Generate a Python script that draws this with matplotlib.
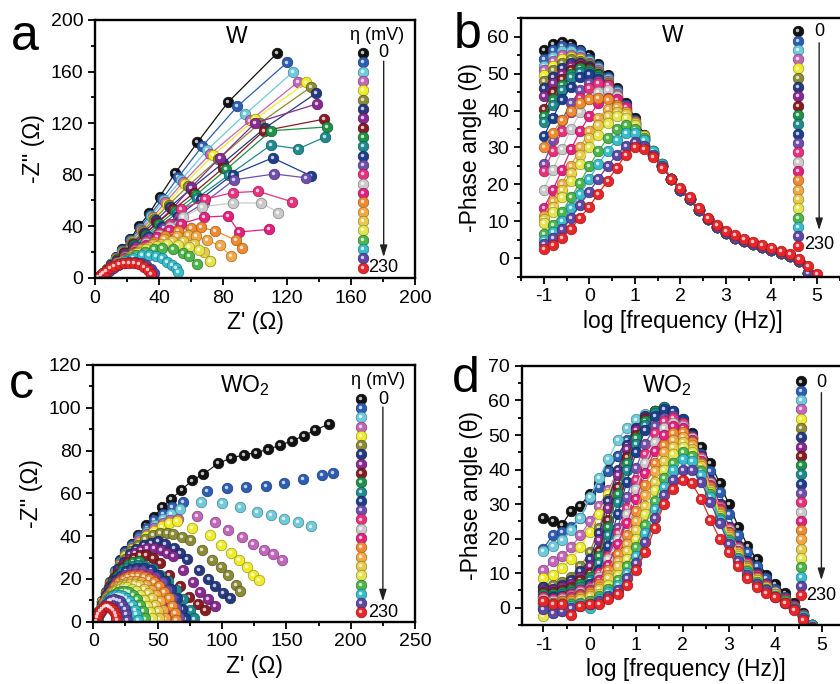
import numpy as np
import matplotlib
matplotlib.use('Agg')
import matplotlib.pyplot as plt
import matplotlib.colors as mcolors
from matplotlib.transforms import offset_copy
from matplotlib.ticker import MultipleLocator

plt.rcParams['font.family'] = ['Liberation Sans', 'DejaVu Sans']
plt.rcParams['mathtext.fontset'] = 'custom'
plt.rcParams['mathtext.rm'] = 'Liberation Sans'
plt.rcParams['mathtext.it'] = 'Liberation Sans:italic'
plt.rcParams['axes.unicode_minus'] = False

# overpotential 0 -> 230 mV
colors = ['#111111', '#2c5db3', '#6fcadb', '#c266bb', '#f0ec2a', '#8b8a35', '#26397f', '#862a90',
          '#851c22', '#1e9147', '#1e8a8d', '#1d3e8c', '#6d4fae', '#e8307d', '#cacaca', '#e4207f',
          '#f08a30', '#f3a843', '#e8c94a', '#e5e44c', '#4bb548', '#36bccb', '#5a47a6', '#e8262a']

# ---- panel a : W Nyquist ----
a_x = [
    [3, 5, 7.5, 10, 13, 17, 22, 27.5, 34, 40.5, 50, 64, 83, 114],
    [3, 5, 7.5, 10, 13, 17, 22, 28, 34.5, 42, 52, 67, 89, 120],
    [3, 5, 7.5, 10, 13, 17, 22.5, 28.5, 35, 43, 54, 70, 94, 124],
    [3, 5, 7.5, 10, 13, 17.5, 22.5, 29, 36, 44, 55, 72, 97, 127],
    [3, 5, 7.5, 10, 13, 17.5, 23, 29.5, 36.5, 45, 56, 74, 100, 132],
    [3, 5, 7.5, 10, 13.5, 18, 23, 30, 37, 46, 58, 77, 103, 135],
    [3, 5, 7.5, 10, 13.5, 18, 23.5, 30.5, 38, 47, 60, 80, 106, 138],
    [3, 5, 7.5, 10, 13.5, 18, 24, 31, 39, 48, 60, 78, 100, 139],
    [3, 5, 7.5, 10, 13.5, 18, 24, 31, 39, 49, 62, 80, 105.5, 143],
    [3, 5, 7.5, 10, 13.5, 18.5, 24.5, 32, 40, 50, 63, 82, 110, 145],
    [3, 5, 7.5, 10, 13.5, 18.5, 25, 32.5, 41, 51, 64, 84, 110, 127, 143.5],
    [3, 5, 7.5, 10, 14, 19, 25, 33, 42, 52, 66, 86, 111, 135],
    [3, 5, 7.5, 10, 14, 19, 25.5, 33.5, 43, 54, 68, 87, 112, 132],
    [3, 5, 7.5, 10, 14, 19, 25, 32, 40, 47, 54, 69, 86, 102, 123],
    [3, 5, 7.5, 10, 14, 19, 25, 32, 40, 47, 55, 67, 86, 104, 114.5],
    [3, 5, 7.5, 10, 14, 19, 25, 32, 39, 46, 54, 68, 83, 90, 109],
    [3, 5, 7.5, 10, 13.5, 18, 23.5, 30, 37, 44, 52, 60, 66, 75, 88, 92],
    [3, 5, 7.5, 10, 13.5, 18, 23, 29, 36, 43, 51, 58, 63, 70, 78, 85],
    [3, 5, 7.5, 10, 13, 17, 22, 28, 34, 41, 48, 55, 62, 68, 72],
    [3, 5, 7, 9.5, 12.5, 16.5, 21, 26.5, 32, 38.5, 45, 52, 58.5, 65, 72],
    [3, 5, 7, 9.5, 12.5, 16, 20.5, 25.5, 31, 37, 42, 49, 55, 58.5, 64],
    [3, 5, 7, 9, 12, 15, 19, 23.5, 29.5, 34, 38, 42, 45, 48, 50.5, 52],
    [3, 5, 7, 9, 11.5, 14.5, 18, 21.5, 25, 29, 32, 35, 37],
    [2, 3.5, 5, 7, 9.5, 12, 15, 18, 21, 24.5, 27.5, 30.5, 33, 35],
]
a_y = [
    [1, 3.5, 7, 11, 16, 22, 30, 40, 50, 63, 81, 105, 136, 174.5],
    [1, 3.5, 7, 10.5, 15.5, 21.5, 29, 38.5, 49, 61, 78, 102, 133, 167],
    [1, 3.5, 6.5, 10.5, 15, 21, 28.5, 37.5, 48, 60, 76, 99, 127, 160],
    [1, 3, 6.5, 10, 15, 20.5, 28, 37, 47, 58.5, 74, 96, 122, 152],
    [1, 3, 6.5, 10, 14.5, 20, 27.5, 36.5, 46, 57.5, 73, 95, 123, 151.5],
    [1, 3, 6, 9.5, 14.5, 20, 27, 36, 45.5, 56.5, 71, 92, 120, 148],
    [1, 3, 6, 9.5, 14, 19.5, 26.5, 35, 44.5, 55, 69, 89, 116, 143],
    [1, 3, 6, 9.5, 14, 19, 26, 34, 43, 53, 70, 93, 120, 135],
    [1, 3, 6, 9, 13.5, 19, 25.5, 33.5, 42.5, 53, 66, 85, 114, 123],
    [1, 3, 5.5, 9, 13.5, 18.5, 25, 33, 41.5, 51.5, 64, 84, 114, 117],
    [1, 3, 5.5, 9, 13, 18, 24.5, 32, 40.5, 50, 62, 80, 103, 100, 109],
    [1, 3, 5.5, 8.5, 13, 18, 24, 31.5, 39.5, 48, 61, 80, 93, 79],
    [1, 3, 5.5, 8.5, 12.5, 17.5, 23.5, 30.5, 38.5, 47, 58, 76, 80.5, 77.5],
    [1, 3, 5.5, 8.5, 12, 16.5, 22, 28.5, 35, 42, 53, 61, 66, 67, 59],
    [1, 3, 5.5, 8, 11.5, 16, 21, 27, 33, 39.5, 47, 55, 58, 58, 50.5],
    [1, 3, 5, 8, 11, 15, 20, 25.5, 31.5, 37, 42, 47, 48, 35.5, 37.5],
    [1, 3, 5, 7.5, 10.5, 14, 18.5, 23, 28, 32.5, 36, 38.5, 39, 36.5, 29, 23],
    [1, 2.8, 5, 7.5, 10, 13.5, 17.5, 22, 26.5, 30, 32.5, 33, 32, 29, 25, 17],
    [1, 2.8, 5, 7, 9.5, 12.5, 16, 20, 23.5, 26.5, 28.5, 28.5, 26, 20, 13],
    [1, 2.5, 4.5, 6.5, 9, 12, 15.5, 19, 22, 24.5, 26, 25.5, 24, 21.5, 13],
    [1, 2.5, 4.5, 6.5, 9, 11.5, 14.5, 17.5, 20, 22, 23, 22, 19, 16.5, 11],
    [1, 2.3, 4, 6, 8, 10.5, 13, 15.5, 17.5, 17.5, 16.5, 15, 12.5, 10, 7.5, 4.5],
    [1, 2.3, 4, 5.5, 7.5, 9.5, 11.5, 12.5, 12.5, 11.5, 9.5, 7, 4],
    [0.3, 2, 3.5, 5.5, 7.5, 9, 10.5, 11.2, 11.5, 11.2, 10.3, 8.5, 6, 3],
]

# ---- panel b : W Bode ----
b_logf = [-1.0, -0.8, -0.6, -0.4, -0.2, 0.0, 0.2, 0.4, 0.6, 0.8, 1.0, 1.2, 1.4, 1.6, 1.8,
          2.0, 2.2, 2.4, 2.6, 2.8, 3.0, 3.2, 3.4, 3.6, 3.8, 4.0, 4.2, 4.4, 4.6, 4.8, 5.0]
b_head = [
    [56.5, 58, 58.5, 58, 56.5, 55, 52.5, 49.5, 46, 42, 38, 33.5, 29, 25],
    [54, 56.5, 57.5, 57, 56, 54, 52, 49, 45.5, 41.5, 37.5, 33, 28.5, 25],
    [52, 54.5, 56, 56, 55, 53.5, 51.5, 48.5, 45, 41, 37, 33, 28.5, 25],
    [51, 53.5, 55, 55, 54.5, 53, 51, 48, 44.5, 40.5, 36.5, 32.5, 28.5, 25],
    [49.5, 52, 54, 54.5, 54, 52.5, 50.5, 47.5, 44, 40.5, 36.5, 32.5, 28.5, 25],
    [48, 51, 53, 54, 53.5, 52.5, 50.5, 47.5, 44, 40, 36.5, 32.5, 28.5, 25],
    [46, 49, 51.5, 53, 53, 52, 50, 47, 43.5, 40, 36, 32.5, 28.5, 25],
    [44, 47.5, 50, 52, 52.5, 51.5, 49.5, 46.5, 43, 39.5, 36, 32, 28.5, 25],
    [40.5, 45, 48.5, 51, 52, 51.5, 49.5, 46.5, 43, 39.5, 36, 32, 28.5, 25],
    [38.5, 43, 47, 50, 51.5, 51, 49.5, 46.5, 43, 39.5, 35.5, 32, 28, 25],
    [37, 41.5, 45.5, 49, 50.5, 50.5, 49, 46.5, 43, 39.5, 35.5, 32, 28, 25],
    [33, 38, 43, 46.5, 49, 50, 48.5, 46, 42.5, 39, 35.5, 32, 28, 25],
    [25.5, 32, 37.5, 42, 45.5, 47.5, 48, 46, 42.5, 39, 35.5, 31.5, 28, 25],
    [23.5, 29, 34.5, 39.5, 43.5, 46, 47.5, 47, 44, 40.5, 36.5, 32, 28, 25],
    [18.5, 24, 29.5, 35, 39.5, 43, 45, 45.5, 44, 40.5, 36.5, 32.5, 28.5, 25],
    [13.5, 18.5, 24, 29.5, 34.5, 38.5, 42, 43.5, 43, 41, 37, 32.5, 28.5, 25],
    [30, 34, 37.5, 40, 42, 43, 43.5, 43, 41.5, 39.5, 36.5, 33, 29, 25.5],
    [11.5, 15.5, 20, 25, 30, 34.5, 38, 40.5, 41, 39.5, 37, 33, 29, 25.5],
    [10.5, 14, 18.5, 23, 28, 32.5, 36, 38.5, 39.5, 39, 36.5, 33, 29, 25.5],
    [9.5, 12.5, 16.5, 21, 25.5, 30, 33.5, 36.5, 38.5, 38, 36, 33, 29, 25.5],
    [6.5, 9, 12.5, 16.5, 20.5, 25, 29, 32.5, 35, 36, 35, 32.5, 29, 25.5],
    [5, 7, 10, 13.5, 17.5, 21.5, 25.5, 29, 32, 34, 34, 32, 29, 25.5],
    [3.8, 5.5, 8, 11, 14.5, 18, 21.5, 25, 28, 30.5, 31.5, 30.5, 28, 25],
    [2.4, 3.5, 5.5, 8, 11, 14, 17.5, 21, 24.5, 28, 30, 29.5, 27.5, 24.5],
]
# high-frequency part (log f = 1.8 ... 5.0), where all curves overlap
b_tail = [21.5, 18.5, 16, 13, 10.5, 8.5, 6.8, 5.6, 4.6, 3.8, 3.0, 2.2, 1.5, 0.7, -0.8, -4, -7]
b_tail_red = [21.5, 19, 16.5, 13.5, 11, 9, 7.5, 6.3, 5.3, 4.5, 3.6, 2.7, 2.0, 1.2, -0.3, -2.2, -4.2]
b_y = [h + (b_tail_red if i == 23 else b_tail) for i, h in enumerate(b_head)]

# ---- panel c : WO2 Nyquist ----
c_x = [
    [2.5, 4.5, 7, 10, 13, 16.5, 20.5, 25, 30, 35, 41, 47, 53.5, 60.5, 68.5, 76.5, 85.5, 97, 107, 117, 126.5, 135.5, 145, 154.5, 163.5, 172.5, 183],
    [2.5, 4.5, 7, 10, 13, 16.5, 20.5, 25, 30, 35.5, 41.5, 47.5, 54, 61, 69.5, 88, 104, 119, 134, 148, 163, 178, 186],
    [2.5, 4.5, 7, 10, 13, 16.5, 20.5, 25, 30, 35.5, 41.5, 48, 54.5, 60, 67.5, 84, 100, 114, 127, 138, 148.5, 159, 169],
    [2.5, 4.5, 7, 10, 13, 16.5, 20.5, 25, 30, 35.5, 41.5, 47.5, 54, 59.5, 66, 80.5, 94.5, 105, 115.5, 124, 132.5, 139.5, 146.5],
    [2.5, 4.5, 7, 10, 13, 16.5, 20.5, 25, 30, 35.5, 41, 47, 53, 59, 65, 76.5, 90.5, 99, 107, 113.5, 119.5, 124, 128.5],
    [2.5, 4.5, 7, 10, 13, 16.5, 20, 24.5, 29.5, 35, 40.5, 46, 51.5, 57, 62, 69, 75.5, 84.5, 92, 99, 105, 110.5, 114],
    [2.5, 4.5, 7, 10, 13, 16, 19.5, 24, 28.5, 33.5, 39, 44.5, 50, 56, 62.5, 67.5, 72.5, 82, 89.5, 94.5, 100.5, 106],
    [2.5, 4.5, 7, 9.5, 12.5, 15.5, 19, 23, 27.5, 32, 37, 42, 47, 52.5, 57.5, 62, 70, 77.5, 83, 89, 94.5],
    [2.5, 4.5, 7, 9.5, 12.5, 15.5, 19, 23, 27, 31.5, 36, 41, 46, 51.5, 59, 67.5, 74.5, 81, 87],
    [2.5, 4.5, 7, 9.5, 12.5, 15.5, 19, 23, 27, 31, 35.5, 41.5, 49, 56, 63, 69.5, 76],
    [2.5, 4.5, 7, 9.5, 12.5, 15.5, 19, 22.5, 26.5, 30.5, 35, 40, 46, 52, 58, 64, 70, 75.5, 78.5],
    [2.5, 4.5, 6.5, 9, 12, 15, 18, 21.5, 25.5, 29.5, 34, 39, 44.5, 50, 55.5, 60.5, 65, 69, 71],
    [2.5, 4.5, 6.5, 9, 12, 15, 18, 21.5, 25, 29, 33.5, 38, 43, 48, 53, 57.5, 61.5, 64.5, 66.5],
    [2.5, 4.5, 6.5, 9, 11.5, 14.5, 17.5, 21, 24.5, 28.5, 32.5, 37, 41.5, 46, 50.5, 54.5, 58, 61, 63],
    [2.5, 4.5, 6.5, 9, 11.5, 14.5, 17.5, 21, 24.5, 28, 32, 36, 40.5, 44.5, 49, 52.5, 56, 58.5, 60],
    [2.5, 4.5, 6.5, 8.5, 11, 14, 17, 20, 23.5, 27, 31, 35, 39, 43, 47, 50.5, 53.5, 55.5, 57],
    [2.5, 4.5, 6.5, 8.5, 11, 14, 17, 20, 23.5, 27, 31, 35, 39, 43, 47, 51, 55, 58.5, 61.5, 63.5, 64.5],
    [2.5, 4.5, 6.5, 8.5, 11, 13.5, 16.5, 19.5, 22.5, 26, 29.5, 33, 37, 41, 45, 48.5, 51.5, 54, 55.5],
    [2.5, 4, 6, 8, 10.5, 13, 15.5, 18.5, 21.5, 25, 28.5, 32, 35.5, 39, 42.5, 45.5, 48, 50, 51],
    [2.5, 4, 6, 8, 10, 12.5, 15, 17.5, 20.5, 23.5, 26.5, 30, 33, 36.5, 39.5, 42, 44, 45.5],
    [2.5, 4, 5.5, 7.5, 9.5, 11.5, 14, 16.5, 19, 22, 25, 28, 31, 34, 36.5, 38.5, 40],
    [2.5, 4, 5.5, 7, 9, 11, 13, 15.5, 18, 20.5, 23, 25.5, 28, 30, 32, 33.5, 34.5],
    [2.5, 3.5, 5, 6.5, 8, 10, 12, 14, 16, 18.5, 20.5, 22.5, 24.5, 25.5, 26.5],
    [2, 3, 4, 5, 6.5, 8, 9.5, 11, 12.5, 14, 15.5, 16.5, 17.5, 18],
]
c_y = [
    [1, 5, 9.5, 14, 18.5, 23.5, 29, 33, 36.5, 40.5, 45, 49, 53.5, 57.5, 61.5, 66, 69, 74, 76.5, 78, 79, 80.5, 82.5, 84.5, 87, 89.5, 92.5],
    [1, 5, 9.5, 14, 18.5, 23.5, 28.5, 32.5, 36, 40, 44, 47.5, 50.5, 53.5, 56, 61, 62.5, 63, 63.5, 65, 66.5, 68.5, 69.5],
    [1, 5, 9, 13.5, 18, 23, 27.5, 31.5, 35, 38.5, 42, 45, 48, 50.5, 52.5, 56, 55.5, 53.5, 51.5, 50, 48, 46.5, 44.5],
    [1, 5, 9, 13.5, 18, 22.5, 27, 31, 34.5, 38, 41, 44, 46, 47.5, 48, 49.5, 46.5, 43, 39.5, 36.5, 33.5, 31.5, 29],
    [1, 5, 9, 13, 17.5, 22, 26.5, 30.5, 34, 37, 40, 42.5, 44.5, 46, 47, 44, 40.5, 36, 32, 29, 25.5, 22, 19.5],
    [1, 4.5, 8.5, 12.5, 17, 21.5, 25.5, 29.5, 33, 36, 38.5, 40.5, 41.5, 41.5, 41, 39.5, 38, 33.5, 29, 25.5, 22, 17, 14.5],
    [1, 4.5, 8.5, 12.5, 16.5, 20.5, 24.5, 28, 31.5, 34, 36, 37, 37.5, 36.5, 34.5, 32, 29.5, 24, 20, 16.5, 13.5, 11],
    [1, 4.5, 8, 12, 16, 19.5, 23, 26.5, 29.5, 32, 33.5, 34.5, 34.5, 33.5, 32, 30.5, 24, 18.5, 14, 10.5, 7.5],
    [1, 4.5, 8, 11.5, 15.5, 19, 22.5, 25.5, 28, 30, 31, 31, 30, 27.5, 22, 16.5, 11.5, 8.5, 5.5],
    [1, 4.5, 8, 11.5, 15, 18.5, 21.5, 24.5, 26.5, 28, 28.5, 24.5, 19, 14, 9.5, 5.5, 2.5],
    [1, 4.5, 7.5, 11, 14.5, 17.5, 20.5, 23, 25, 26, 26.5, 26, 24.5, 22, 19, 15, 10.5, 5.5, 1.5],
    [1, 4, 7.5, 10.5, 14, 17, 19.5, 21.5, 23.5, 24.5, 25, 25, 24, 22, 19, 15.5, 11, 6, 1.5],
    [1, 4, 7, 10, 13, 16, 18.5, 20.5, 22, 23, 23.5, 23.5, 22.5, 21, 18.5, 15, 11, 6.5, 2],
    [1, 4, 7, 9.5, 12.5, 15, 17.5, 19.5, 21, 22, 22.5, 22.5, 21.5, 20, 17.5, 14.5, 10.5, 6.5, 2],
    [1, 4, 6.5, 9, 12, 14.5, 16.5, 18.5, 20, 21, 21.5, 21.5, 20.5, 19, 16.5, 13.5, 10, 6, 2],
    [1, 4, 6.5, 9, 11.5, 14, 16, 18, 19.5, 20.5, 21, 21, 20, 18.5, 16, 13, 9.5, 5.5, 1.5],
    [1, 4, 6.5, 9, 11.5, 14, 16.5, 18.5, 20, 21, 21.5, 21.5, 21, 20, 18.5, 16.5, 14, 11, 7.5, 4, 1],
    [1, 3.5, 6, 8.5, 11, 13, 15, 16.5, 17.5, 18.5, 19, 19, 18.5, 17, 15, 12.5, 9.5, 5.5, 1.5],
    [1, 3.5, 6, 8, 10, 12, 14, 15.5, 16.5, 17, 17.5, 17.5, 17, 15.5, 13.5, 11, 8, 5, 1.5],
    [1, 3.5, 5.5, 7.5, 9.5, 11.5, 13, 14.5, 15.5, 16, 16, 15.5, 14.5, 12.5, 10, 7.5, 4.5, 1.5],
    [1, 3, 5, 7, 8.5, 10.5, 12, 13, 14, 14.5, 14.5, 14, 12.5, 10.5, 8, 5, 1.5],
    [1, 3, 4.5, 6, 8, 9.5, 11, 12, 12.5, 12.5, 12, 11, 9.5, 8, 5.5, 3.5, 1],
    [0.8, 2.5, 4, 5.5, 7, 8.5, 9.5, 10, 10.5, 10, 9.5, 8, 6, 3.5, 1],
    [0.5, 2, 3.5, 5, 6, 7, 7.5, 7.5, 7, 6.5, 5.5, 4, 2.5, 1],
]

# ---- panel d : WO2 Bode ----
d_logf = [-1.0, -0.8, -0.6, -0.4, -0.2, 0.0, 0.2, 0.4, 0.6, 0.8, 1.0, 1.2, 1.4, 1.6, 1.8,
          2.0, 2.2, 2.4, 2.6, 2.8, 3.0, 3.2, 3.4, 3.6, 3.8, 4.0, 4.2, 4.4, 4.6, 4.8]
d_y = [
    [26, 25, 24, 28, 29.5, 33, 36, 40, 44, 48, 51.5, 55, 57, 57, 55.5, 53, 50.5, 46.5, 42, 36, 30, 23.5, 18, 14, 9.5, 7, 4.3, 1.5, -1.5, -5],
    [17, 21, 22, 23.5, 26, 31.5, 35, 39.5, 44, 48.5, 52, 55, 56.5, 57, 55.5, 52.5, 49, 44.5, 39.5, 33.5, 27, 21, 16, 12, 8.5, 5.5, 3, 0.5, -2.5, -5.5],
    [16.5, 18, 19.5, 22.5, 26, 32, 37.5, 43, 48.5, 52, 54.5, 56, 56.5, 56, 54, 50.5, 45.5, 39.5, 33, 27, 21.5, 16.5, 12.5, 9, 6.5, 4.5, 2.5, 0, -2.5, -5.5],
    [11, 13.5, 15, 17.5, 21, 25, 29.5, 34, 39.5, 45, 50, 53.5, 55.5, 56, 54.5, 51.5, 46.5, 40.5, 34, 28, 22, 17, 13, 9.5, 7, 4.5, 2.5, 0.5, -2, -5],
    [8.5, 9.5, 11.5, 14, 17.5, 22, 27, 33, 39, 44.5, 49.5, 53, 55, 55.5, 54, 51, 46, 40, 33.5, 27.5, 21.5, 16.5, 12.5, 9, 6.5, 4.5, 2.5, 0, -2.5, -5],
    [6, 6.5, 7.5, 9, 12, 16, 23, 31.5, 39.5, 46, 50.5, 54, 56, 56.5, 55, 52, 47, 41, 34.5, 28, 22, 17, 13, 9.5, 7, 4.5, 2.5, 0.5, -2, -5],
    [6, 5.5, 6.5, 8, 10.5, 14, 21.5, 31, 40, 47, 52, 55.5, 57, 57, 55.5, 52.5, 47.5, 41.5, 35, 28.5, 22.5, 17.5, 13, 9.5, 7, 4.5, 2.5, 0.5, -2, -5],
    [5, 5, 6, 7, 9, 12, 19.5, 29, 38.5, 46, 51.5, 55, 57, 57.5, 56, 53, 48, 42, 35.5, 29, 22.5, 17.5, 13, 9.5, 7, 4.5, 2.5, 0.5, -2, -5],
    [4.5, 4.5, 5, 6, 8, 10, 16.5, 25.5, 35, 43.5, 50, 54.5, 57, 57.5, 56.5, 53.5, 48.5, 42.5, 36, 29.5, 23, 18, 13.5, 10, 7, 4.5, 2.5, 0.5, -2, -5],
    [4, 4, 4.5, 5, 7, 9, 15, 23.5, 33, 42, 49, 54, 57, 58, 57, 54, 49, 43, 36, 29.5, 23, 18, 13.5, 10, 7, 4.5, 2.5, 0.5, -2, -5],
    [3.5, 3.5, 4, 4.5, 6, 8, 13, 21, 30.5, 40, 47.5, 53, 56.5, 58, 57, 54.5, 49.5, 43.5, 36.5, 30, 23.5, 18, 13.5, 10, 7, 4.5, 2.5, 0.5, -2, -5],
    [3, 3, 3.5, 4, 5, 7, 11, 18, 27, 36.5, 45, 51.5, 55.5, 57.5, 57, 54.5, 50, 44, 37, 30, 23.5, 18, 13.5, 10, 7, 4.5, 2.5, 0.5, -2, -5],
    [0, -1, 0, 1.5, 3, 5, 9, 15, 23, 32, 40.5, 47.5, 52.5, 55, 55.5, 53.5, 49, 43, 36.5, 29.5, 23, 17.5, 13, 9.5, 7, 4.5, 2.5, 0.5, -2, -5],
    [3, 2.5, 3, 4, 5, 6, 10, 15, 21.5, 29, 37, 44.5, 50.5, 54, 55, 53.5, 49.5, 43.5, 36.5, 29.5, 23, 17.5, 13, 9.5, 6.5, 4.5, 2.5, 0.5, -2, -5],
    [2.5, 2, 2.5, 3.5, 4.5, 5.5, 9, 14, 20, 27, 34.5, 42, 48, 52, 53.5, 52.5, 49, 43, 36, 29, 22.5, 17, 12.5, 9, 6.5, 4.5, 2.5, 0.5, -2, -5],
    [2, 1.5, 2, 3, 4, 5, 8, 12.5, 18.5, 24.5, 31.5, 39, 45.5, 50, 52.5, 52, 48.5, 42.5, 35.5, 28.5, 22, 16.5, 12, 9, 6.5, 4, 2.5, 0.5, -2, -5],
    [1.5, 1.5, 2, 2.5, 3.5, 4.5, 7, 11, 15.5, 21, 28, 35.5, 42, 47, 50.5, 51, 48, 42, 35, 28, 21.5, 16, 12, 8.5, 6, 4, 2, 0, -2.5, -5],
    [1.5, 1, 1.5, 2, 3, 4, 6, 9.5, 13.5, 18.5, 25, 32.5, 39.5, 45, 48.5, 49.5, 47, 41.5, 34.5, 27.5, 21, 16, 11.5, 8.5, 6, 4, 2, 0, -2.5, -5],
    [1, 1, 1, 1.5, 2.5, 3.5, 5.5, 8.5, 12, 16.5, 22.5, 29.5, 36.5, 42.5, 46.5, 48, 46, 41, 34, 27, 20.5, 15.5, 11.5, 8, 6, 4, 2, 0, -2.5, -5],
    [-2.5, -1.5, -1, 0, 1, 2, 4, 6.5, 9.5, 14, 20, 27, 34, 40, 44.5, 46.5, 45, 40, 33.5, 26.5, 20, 15, 11, 8, 5.5, 3.5, 2, 0, -2.5, -5],
    [1, 0.5, 1, 1, 1.5, 2, 3.5, 5.5, 8, 12, 17.5, 24, 31, 37.5, 42, 45, 44, 39.5, 33, 26, 19.5, 14.5, 10.5, 7.5, 5.5, 3.5, 2, 0, -2.5, -5],
    [0.5, 0, 0.5, 0.5, 1, 0, 2.5, 4.5, 6.5, 10, 15, 21.5, 28.5, 35, 40, 43, 42.5, 38.5, 32, 25.5, 19, 14, 10, 7, 5, 3.5, 1.5, 0, -2.5, -5],
    [-0.5, -1.5, -1, 0, 0.5, 1, 2, 3.5, 5, 8.5, 13, 19, 26, 32.5, 37, 40, 40, 36.5, 30.5, 24.5, 18.5, 13.5, 9.5, 7, 5, 3, 1.5, -0.5, -3, -5.5],
    [2, 1, 1, -2, 0.5, 1, 1.2, 2.5, 4, 6.5, 11, 16, 23, 30, 34.5, 37, 36, 31.5, 25.5, 20, 16, 12, 8.5, 6, 4.3, 3, 1.5, -0.8, -3.5, -6],
]

fig = plt.figure(figsize=(8.4, 6.84), dpi=100)
ax_a = fig.add_axes([0.1131, 0.594, 0.381, 0.3768])
ax_b = fig.add_axes([0.6202, 0.5955, 0.385, 0.3778])
ax_c = fig.add_axes([0.1111, 0.0911, 0.383, 0.3753])
ax_d = fig.add_axes([0.6214, 0.0863, 0.390, 0.3787])

MS = 7.6


def balls(ax, x, y, c, ms=MS, line=True, lw=0.9, trans=None, clip=True):
    # shaded sphere look: coloured disc + small white highlight
    if trans is None:
        trans = ax.transData
    edge = tuple(v * 0.65 for v in mcolors.to_rgb(c))
    ax.plot(x, y, ls='-' if line else 'none', color=c, lw=lw, marker='o', ms=ms,
            mfc=c, mec=edge, mew=0.5, transform=trans, clip_on=clip)
    hi = offset_copy(trans, fig=ax.figure, x=-0.7, y=0.7, units='points')
    ax.plot(x, y, ls='none', marker='o', ms=ms * 0.33, mfc='white', mec='none',
            alpha=0.75, transform=hi, clip_on=clip)


def style(ax, xlim, ylim, xmaj, xmin, ymaj, ymin):
    ax.set_xlim(xlim)
    ax.set_ylim(ylim)
    ax.xaxis.set_major_locator(MultipleLocator(xmaj))
    ax.xaxis.set_minor_locator(MultipleLocator(xmin))
    ax.yaxis.set_major_locator(MultipleLocator(ymaj))
    ax.yaxis.set_minor_locator(MultipleLocator(ymin))
    ax.tick_params(which='both', direction='out', top=False, right=False, width=1.3,
                   labelsize=14)
    ax.tick_params(which='major', length=5)
    ax.tick_params(which='minor', length=3)
    for s in ax.spines.values():
        s.set_linewidth(1.7)


def key(ax, xdot, ytop, ybot, xtxt, y0txt, ya0, ya1, y230, eta_pos=None):
    ys = np.linspace(ytop, ybot, len(colors))
    for c, yy in zip(colors, ys):
        balls(ax, [xdot], [yy], c, line=False, trans=ax.transAxes, clip=False)
    ax.text(xtxt, y0txt, '0', transform=ax.transAxes, ha='center', va='center', fontsize=13)
    ax.text(xtxt, y230, '230', transform=ax.transAxes, ha='center', va='center', fontsize=13)
    ax.annotate('', xy=(xtxt, ya1), xytext=(xtxt, ya0), xycoords='axes fraction',
                arrowprops=dict(arrowstyle='-|>,head_length=0.7,head_width=0.22',
                                color='#222222', lw=1.0, shrinkA=0, shrinkB=0))
    if eta_pos is not None:
        ax.text(eta_pos[0], eta_pos[1], 'η (mV)', transform=ax.transAxes,
                ha='center', va='center', fontsize=13)


# a
for i in range(len(colors)):
    balls(ax_a, a_x[i], a_y[i], colors[i])
style(ax_a, (0, 200), (0, 200), 40, 20, 40, 20)
ax_a.set_xlabel("Z' (Ω)", fontsize=16.5, labelpad=3)
ax_a.set_ylabel("-Z'' (Ω)", fontsize=16.5, labelpad=4)
ax_a.text(0.443, 0.934, 'W', transform=ax_a.transAxes, ha='center', va='center', fontsize=16.5)
key(ax_a, 0.836, 0.872, 0.039, 0.902, 0.872, 0.84, 0.08, 0.039, eta_pos=(0.88, 0.938))

# b
for i in range(len(colors)):
    balls(ax_b, b_logf, b_y[i], colors[i])
style(ax_b, (-1.5, 5.6), (-5, 65), 1, 0.5, 10, 5)
ax_b.set_xlabel('log [frequency (Hz)]', fontsize=16.5, labelpad=3)
ax_b.set_ylabel('-Phase angle (θ)', fontsize=16.5, labelpad=4)
ax_b.text(0.47, 0.934, 'W', transform=ax_b.transAxes, ha='center', va='center', fontsize=16.5)
key(ax_b, 0.857, 0.950, 0.120, 0.922, 0.948, 0.905, 0.18, 0.124)

# c
for i in range(len(colors)):
    balls(ax_c, c_x[i], c_y[i], colors[i], line=(i == 0), lw=0.8)
style(ax_c, (0, 250), (0, 120), 50, 25, 20, 10)
ax_c.set_xlabel("Z' (Ω)", fontsize=16.5, labelpad=3)
ax_c.set_ylabel("-Z'' (Ω)", fontsize=16.5, labelpad=4)
ax_c.text(0.472, 0.919, 'WO$_2$', transform=ax_c.transAxes, ha='center', va='center', fontsize=16.5)
key(ax_c, 0.832, 0.869, 0.036, 0.900, 0.867, 0.836, 0.079, 0.036, eta_pos=(0.886, 0.938))

# d
for i in range(len(colors)):
    balls(ax_d, d_logf, d_y[i], colors[i])
style(ax_d, (-1.46, 5.6), (-5, 70), 1, 0.5, 10, 5)
ax_d.set_xlabel('log [frequency (Hz)]', fontsize=16.5, labelpad=3)
ax_d.set_ylabel('-Phase angle (θ)', fontsize=16.5, labelpad=4)
ax_d.text(0.441, 0.923, 'WO$_2$', transform=ax_d.transAxes, ha='center', va='center', fontsize=16.5)
key(ax_d, 0.853, 0.940, 0.115, 0.914, 0.936, 0.897, 0.173, 0.115)

# panel letters
for lx, ly, t in [(0.013, 0.927, 'a'), (0.540, 0.930, 'b'), (0.011, 0.418, 'c'), (0.538, 0.427, 'd')]:
    fig.text(lx, ly, t, fontsize=36, ha='left', va='baseline')

fig.savefig('out.png', dpi=100)
